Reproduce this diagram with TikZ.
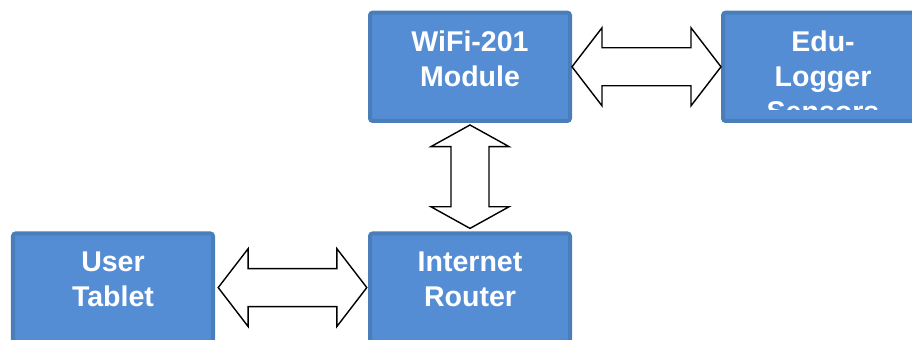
\documentclass[tikz,border=0pt]{standalone}
\usepackage{fontspec}
\setmainfont{Liberation Sans}
\usetikzlibrary{calc}

\definecolor{unitfill}{RGB}{84,141,212}
\definecolor{unitedge}{RGB}{74,126,187}

% block arrow with a head at both ends
\newcommand{\twoway}[3]{%
    \coordinate (tw-a) at (#1);
    \coordinate (tw-b) at (#2);
    \coordinate (tw-p) at ($(tw-a)!#3!(tw-b)$);
    \coordinate (tw-q) at ($(tw-b)!#3!(tw-a)$);
    \draw [link] (tw-a)
        -- ($(tw-p)!0.975cm!90:(tw-b)$) -- ($(tw-p)!0.475cm!90:(tw-b)$)
        -- ($(tw-q)!0.475cm!-90:(tw-a)$) -- ($(tw-q)!0.975cm!-90:(tw-a)$)
        -- (tw-b)
        -- ($(tw-q)!0.975cm!90:(tw-a)$) -- ($(tw-q)!0.475cm!90:(tw-a)$)
        -- ($(tw-p)!0.475cm!-90:(tw-b)$) -- ($(tw-p)!0.975cm!-90:(tw-b)$)
        -- cycle;}

\begin{document}
\begin{tikzpicture}[
    unit/.style={rectangle, rounded corners=2pt, draw=unitedge, fill=unitfill, line width=0.1cm,
                 minimum width=5.0cm, minimum height=2.71cm, inner sep=0pt},
    caption/.style={anchor=north, inner sep=0pt, align=center, text=white,
                    font=\fontsize{20.3}{24.9}\selectfont\bfseries},
    link/.style={draw=black, fill=white, line width=1pt, line join=miter}]

    \useasboundingbox (0,0) rectangle (22.8,8.5);
    \clip (0,0) rectangle (22.8,8.5);

    \node (wifi)   [unit] at (11.75,6.83)  {};
    \node (edu)    [unit] at (20.575,6.83) {};
    \node (tablet) [unit] at (2.825,1.31)  {};
    \node (router) [unit] at (11.75,1.31)  {};

    % labels
    \node (wifi-t)   [caption] at ([yshift=-0.5cm]wifi.north)   {WiFi-201\\Module};
    \node (tablet-t) [caption] at ([yshift=-0.5cm]tablet.north) {User\\Tablet};
    \node (router-t) [caption] at ([yshift=-0.5cm]router.north) {Internet\\Router};
    \begin{scope}
        \clip (edu.north west) rectangle ([yshift=0.325cm]edu.south east);
        \node (edu-t) [caption] at ([yshift=-0.5cm]edu.north) {Edu-\\Logger\\Sensors};
    \end{scope}

    % links
    \twoway{wifi.east}{edu.west}{0.75cm}
    \twoway{[yshift=-0.05cm]wifi.south}{[yshift=0.075cm]router.north}{0.54cm}
    \twoway{[xshift=0.08cm]tablet.east}{[xshift=-0.03cm]router.west}{0.75cm}
\end{tikzpicture}
\end{document}
